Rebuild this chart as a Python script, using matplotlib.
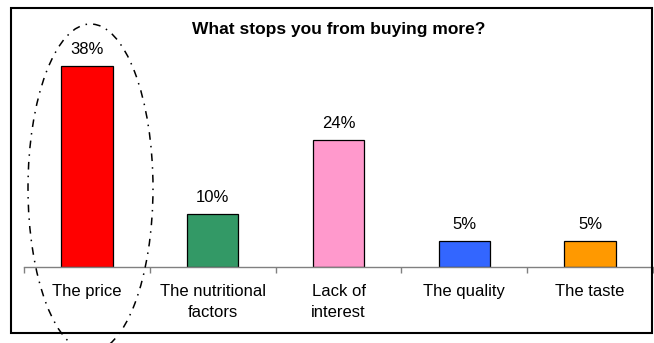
import matplotlib
matplotlib.use("Agg")
import matplotlib.pyplot as plt
from matplotlib.patches import Ellipse, Rectangle

categories = ["The price", "The nutritional\nfactors", "Lack of\ninterest", "The quality", "The taste"]
values = [38, 10, 24, 5, 5]
value_labels = ["38%", "10%", "24%", "5%", "5%"]
colors = ["#FF0000", "#339966", "#FF99CC", "#3366FF", "#FF9900"]
title = "What stops you from buying more?"

plt.rcParams["font.family"] = ["Liberation Sans", "DejaVu Sans"]

W, H = 654, 343
fig = plt.figure(figsize=(W / 100, H / 100), dpi=100)

# plot area in pixel terms: baseline at y=267, 1% = 5.29 px
base_px = 267
per_pct = (267 - 66) / 38
ymax = 40
top_px = base_px - ymax * per_pct
ax = fig.add_axes([24 / W, (H - base_px) / H, (653 - 24) / W, (base_px - top_px) / H])

x = list(range(len(categories)))
ax.bar(x, values, width=0.41, color=colors, edgecolor="black", linewidth=0.9, zorder=3)
for xi, v, lab in zip(x, values, value_labels):
    ax.annotate(lab, (xi, v), xytext=(0, 8.6), textcoords="offset points",
                ha="center", va="baseline", fontsize=12)

ax.set_xlim(-0.5, len(categories) - 0.5)
ax.set_ylim(0, ymax)
ax.set_yticks([])
for s in ("top", "right", "left"):
    ax.spines[s].set_visible(False)
ax.spines["bottom"].set_color("#808080")
ax.spines["bottom"].set_linewidth(1.0)
ax.spines["bottom"].set_zorder(4)

ax.set_xticks(x)
ax.set_xticklabels(categories, fontsize=12, linespacing=1.5)
ax.tick_params(axis="x", which="major", length=0, pad=12)
ax.set_xticks([i - 0.5 for i in range(len(categories) + 1)], minor=True)
ax.tick_params(axis="x", which="minor", length=4, width=1.0, color="#808080", direction="out")
ax.patch.set_alpha(0)

fig.text(338.5 / W, (H - 34) / H, title, ha="center", va="baseline",
         fontsize=12.5, fontweight="bold")

# outer frame
fig.add_artist(Rectangle((11 / W, (H - 333) / H), 641 / W, 325 / H,
                         transform=fig.transFigure, fill=False,
                         edgecolor="black", linewidth=1.5))

# dash-dot ellipse around the first bar
fig.add_artist(Ellipse((90.5 / W, (H - 188) / H), 125 / W, 328 / H,
                       transform=fig.transFigure, fill=False,
                       edgecolor="black", linewidth=1.1,
                       linestyle=(0, (5, 4, 1, 4)), clip_on=False))

fig.savefig("out.png", dpi=100)
